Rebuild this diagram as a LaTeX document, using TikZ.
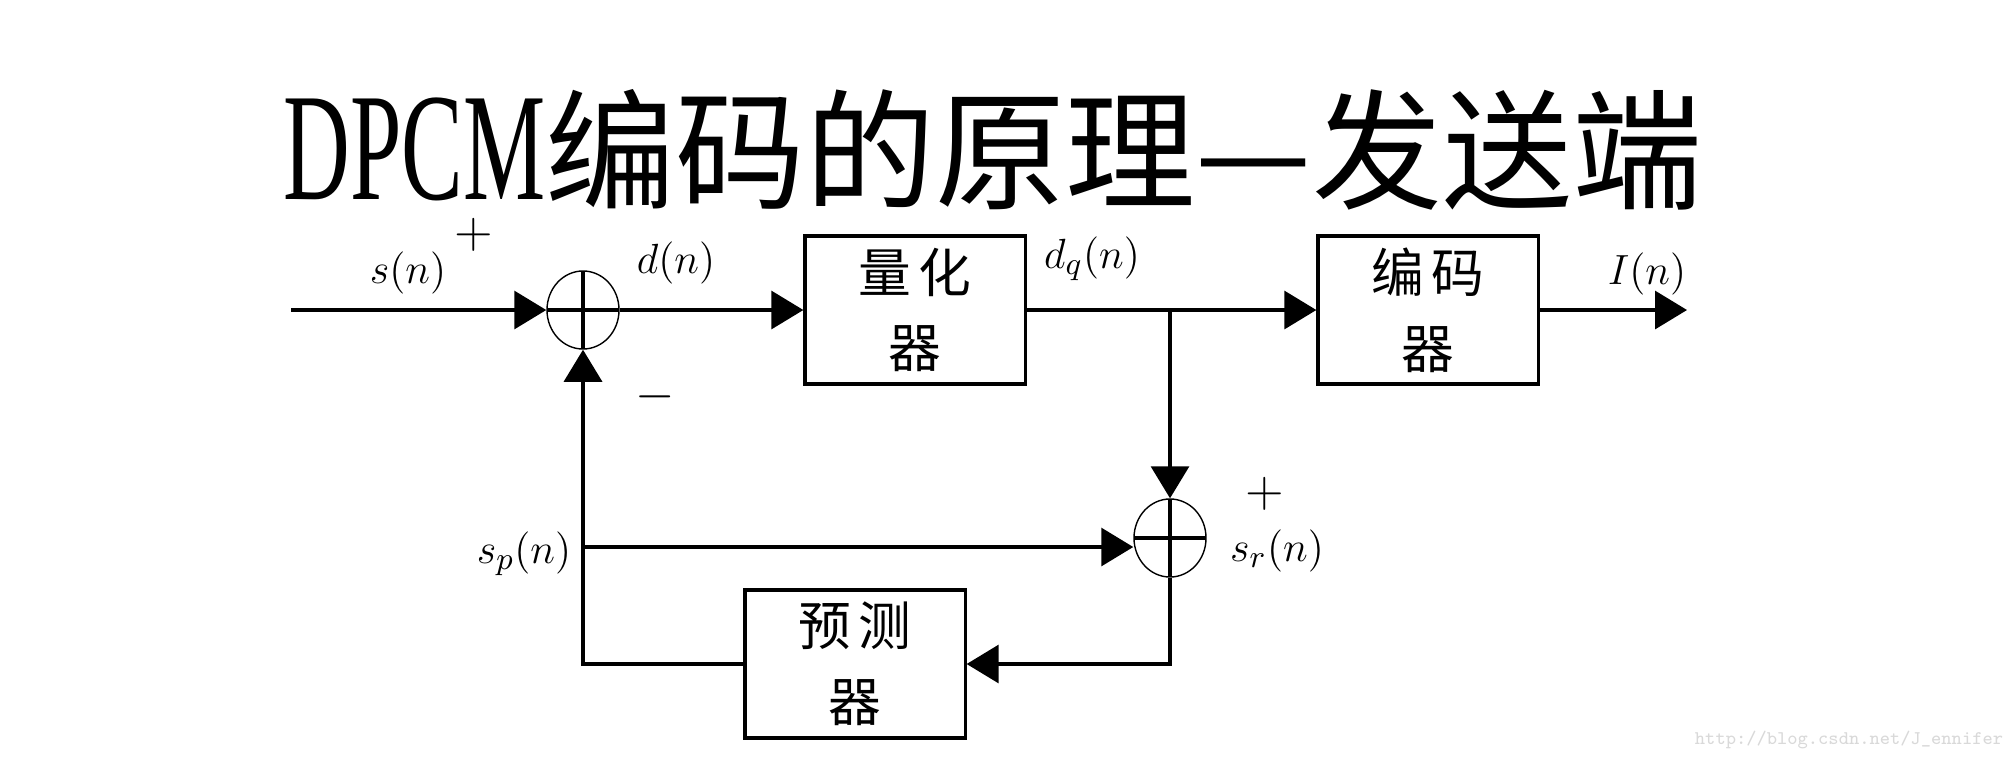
\documentclass[tikz,border=0pt]{standalone}
\usepackage{fontspec}
\setmainfont{Liberation Serif}
\newfontfamily\cjk{Noto Sans CJK SC}
\usetikzlibrary{positioning, arrows.meta, shapes.geometric}

\begin{document}
\begin{tikzpicture}[x=0.01cm, y=-0.01cm,
  blockbox/.style={rectangle, draw=black, line width=0.9pt, minimum width=22mm, minimum height=14.8mm,
    align=center, font=\cjk\fontsize{15}{21.5}\selectfont},
  sumnode/.style={ellipse, draw=black, line width=0.4pt, minimum width=7.2mm, minimum height=7.8mm, inner sep=0pt,
    path picture={\draw[line width=0.9pt] (path picture bounding box.north) -- (path picture bounding box.south)
      (path picture bounding box.west) -- (path picture bounding box.east);}},
  sig/.style={font=\fontsize{13}{15}\selectfont, inner sep=1pt},
  sign/.style={font=\fontsize{14}{16}\selectfont, inner sep=0pt},
  >={Triangle[length=3.2mm, width=3.8mm]}]
\useasboundingbox (0,0) rectangle (2010,757);

\node[font=\fontsize{37}{40}\selectfont, anchor=base, inner sep=0pt, text depth=0pt] (title) at (993,199)
  {\scalebox{0.71}[1.18]{\fontspec{Liberation Serif}DPCM}\cjk 编码的原理—发送端};

\coordinate (input)  at (291,310);
\coordinate (output) at (1687,310);
\node[sumnode]  (sumin)    at (583,310) {};
\node[blockbox] (quantizer) at (915,310) {量\hspace{2pt}化\\器};
\node[blockbox] (encoder)   at (1428,310) {编\hspace{2pt}码\\器};
\node[sumnode]  (sumrec)   at (1170,538) {};
\node[blockbox] (predictor) at (855,664) {预\hspace{2pt}测\\器};
\coordinate (branch) at (1170,310);
\coordinate (sptap)  at (583,547);

\draw[->, line width=0.9pt] (input) to (sumin);
\draw[->, line width=0.9pt] (sumin) to (quantizer);
\draw[->, line width=0.9pt] (quantizer) to (encoder);
\draw[->, line width=0.9pt] (encoder) to (output);
\draw[->, line width=0.9pt] (branch) to (sumrec);
\draw[->, line width=0.9pt] (sumrec) |- (predictor);
\draw[->, line width=0.9pt] (predictor) -| (sumin);
\draw[->, line width=0.9pt] (sptap) to (sptap -| sumrec.west);

\node[sig]  (sn)    at (408,273)  {$s(n)$};
\node[sign] (plusin) at (474,235) {$+$};
\node[sig]  (dn)    at (676,263)  {$d(n)$};
\node[sign] (minus) at (655,397)  {$-$};
\node[sig]  (dqn)   at (1092,259) {$d_q(n)$};
\node[sig]  (In)    at (1647,274) {$I(n)$};
\node[sign] (plusrec) at (1265,494) {$+$};
\node[sig]  (srn)   at (1277,551) {$s_r(n)$};
\node[sig]  (spn)   at (524,554)  {$s_p(n)$};

\node[text=gray!30, font=\ttfamily\fontsize{5.5}{6}\selectfont] (mark) at (1849,740) {http://blog.csdn.net/J\_ennifer};
\end{tikzpicture}
\end{document}
